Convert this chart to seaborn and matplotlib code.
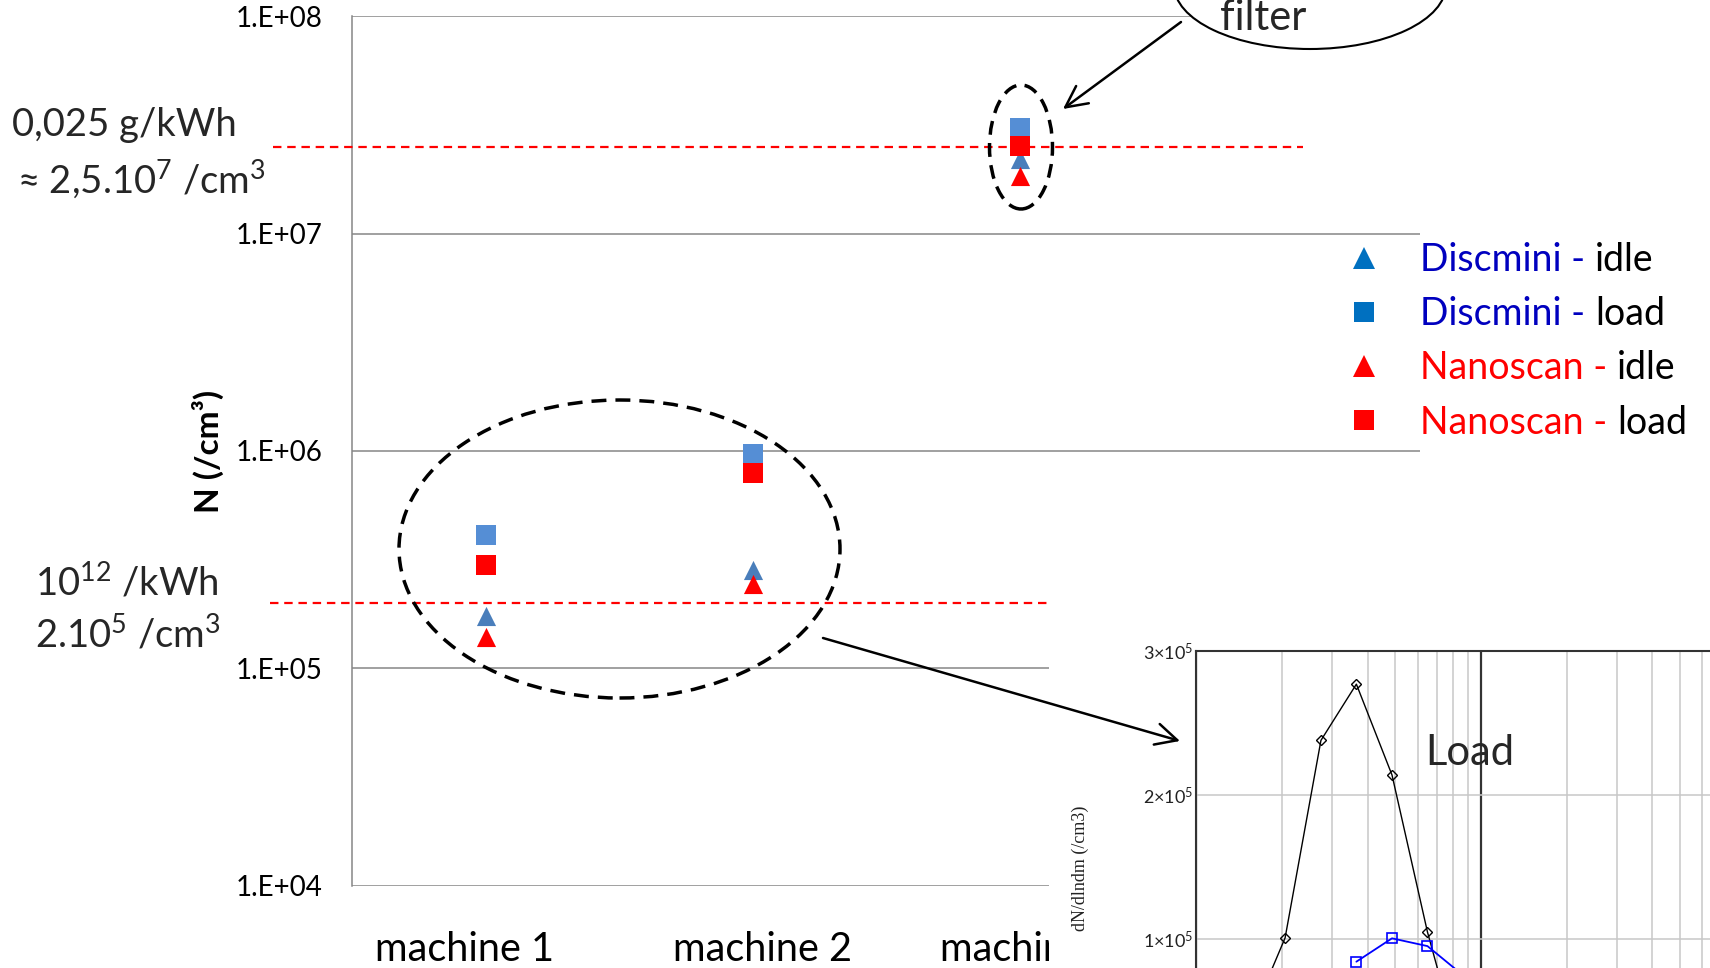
import matplotlib
matplotlib.use("Agg")
import matplotlib.pyplot as plt
import matplotlib.transforms as mtransforms
import numpy as np
import pandas as pd
import seaborn as sns
from matplotlib.lines import Line2D
from matplotlib.patches import Ellipse, FancyArrowPatch, Rectangle
from matplotlib.ticker import LogLocator, NullFormatter

# ---------------- data ----------------
machines = ["machine 1", "machine 2", "machine 3"]
discmini_idle = [1.74e5, 2.83e5, 2.21e7]
discmini_load = [4.10e5, 9.64e5, 3.07e7]
nanoscan_idle = [1.40e5, 2.44e5, 1.84e7]
nanoscan_load = [2.98e5, 7.88e5, 2.52e7]

y_ticks = [1e4, 1e5, 1e6, 1e7, 1e8]
y_tick_labels = ["1.E+04", "1.E+05", "1.E+06", "1.E+07", "1.E+08"]

limit_mass = 2.5e7     # 0,025 g/kWh
limit_number = 2e5     # 10^12 /kWh

# size distribution at load (inset)
dm_black = [15.4, 20.5, 27.4, 36.5, 48.7, 64.9, 86.6]
dn_black = [4.3e4, 1.01e5, 2.38e5, 2.77e5, 2.14e5, 1.05e5, 1.5e4]
dm_blue = [36.5, 48.7, 64.9, 86.6]
dn_blue = [8.45e4, 1.007e5, 9.53e4, 7.5e4]
inset_yticks = [1e5, 2e5, 3e5]
inset_yticklabels = [r"$1{\times}10^{5}$", r"$2{\times}10^{5}$", r"$3{\times}10^{5}$"]

# ---------------- style ----------------
sns.set_theme(style="white")
plt.rcParams["font.family"] = ["Lato", "DejaVu Sans"]
plt.rcParams["mathtext.fontset"] = "custom"
plt.rcParams["mathtext.rm"] = "Lato"
plt.rcParams["mathtext.it"] = "Lato:italic"
plt.rcParams["mathtext.bf"] = "Lato:bold"
plt.rcParams["mathtext.sf"] = "Lato"
plt.rcParams["mathtext.default"] = "regular"

W, H = 1710, 968
fig = plt.figure(figsize=(W / 100, H / 100), dpi=100)
fig.patch.set_facecolor("white")


def fx(px):
    return px / W


def fy(py):
    return 1 - py / H


GRID = "#868686"

# ---------------- main axes ----------------
ax = fig.add_axes([fx(352), fy(885.6), (1420 - 352) / W, (885.6 - 16.4) / H])
ax.set_zorder(0)

series = {
    "Discmini - idle": (discmini_idle, "^", "#4A7EBB"),
    "Discmini - load": (discmini_load, "s", "#558ED5"),
    "Nanoscan - idle": (nanoscan_idle, "^", "#FF0000"),
    "Nanoscan - load": (nanoscan_load, "s", "#FF0000"),
}
for name, (vals, mk, col) in series.items():
    d = pd.DataFrame({"machine": machines, "N": vals})
    sns.scatterplot(data=d, x="machine", y="N", marker=mk, color=col, s=190,
                    linewidth=0, ax=ax, zorder=4, legend=False)

ax.set_yscale("log")
ax.set_ylim(1e4, 1e8)
ax.set_xlim(-0.5, 3.5)
ax.set_yticks(y_ticks)
ax.set_yticklabels(y_tick_labels)
ax.yaxis.set_minor_locator(LogLocator(subs=[]))
ax.yaxis.set_minor_formatter(NullFormatter())
ax.set_xticks(range(len(machines)))
ax.set_xticklabels(machines)
ax.tick_params(axis="y", length=0, pad=21, labelsize=20, labelcolor="black")
ax.tick_params(axis="x", length=0, pad=33, labelsize=28.5, labelcolor="black")
# category labels sit slightly off their category centres
for lab, dx in zip(ax.get_xticklabels(), [-15, 7, 7]):
    lab.set_transform(lab.get_transform() +
                      mtransforms.ScaledTranslation(dx / 72, 0, fig.dpi_scale_trans))
ax.yaxis.grid(True, color=GRID, lw=1.1)
ax.xaxis.grid(False)
for side in ["top", "right", "bottom"]:
    ax.spines[side].set_visible(False)
ax.spines["left"].set_color(GRID)
ax.spines["left"].set_linewidth(1.1)
ax.set_xlabel("")
ax.set_ylabel("N (/cm³)", fontsize=24, fontweight="bold", color="black")
ax.yaxis.label.set_verticalalignment("center")
ax.yaxis.set_label_coords((208 - 352) / 1068, 0.5)

# emission limits
ytr = ax.get_yaxis_transform()
ax.plot([(273 - 352) / 1068, (1303 - 352) / 1068], [limit_mass] * 2, transform=ytr,
        clip_on=False, color="#FF0000", lw=1.6, ls=(0, (3.8, 2.6)), zorder=3)
ax.plot([(270 - 352) / 1068, (1100 - 352) / 1068], [limit_number] * 2, transform=ytr,
        clip_on=False, color="#FF0000", lw=1.6, ls=(0, (3.8, 2.6)), zorder=3)

# legend: coloured instrument name, black operating point
handles = [
    Line2D([], [], ls="", marker="^", ms=16, color="#0070C0", mew=0),
    Line2D([], [], ls="", marker="s", ms=14, color="#0070C0", mew=0),
    Line2D([], [], ls="", marker="^", ms=16, color="#FF0000", mew=0),
    Line2D([], [], ls="", marker="s", ms=14, color="#FF0000", mew=0),
]
leg = ax.legend(handles, ["Discmini -", "Discmini -", "Nanoscan -", "Nanoscan -"],
                loc="upper left", bbox_to_anchor=(fx(1345), fy(242)),
                bbox_transform=fig.transFigure, frameon=False, fontsize=27,
                handlelength=1.0, handletextpad=1.0, labelspacing=0.485,
                borderpad=0, borderaxespad=0)
for t, c in zip(leg.get_texts(), ["#0000BF", "#0000BF", "#FF0000", "#FF0000"]):
    t.set_color(c)

# ---------------- inset: size distribution ----------------
fig.add_artist(Rectangle((fx(1049), 0), 1 - fx(1049), fy(585), transform=fig.transFigure,
                         facecolor="white", edgecolor="none", zorder=1))

axin = fig.add_axes([fx(1196.4), fy(1083.5), 569 / W, 432.5 / H])
axin.set_zorder(2)
axin.set_facecolor("white")
sns.lineplot(x=dm_black, y=dn_black, ax=axin, color="black", lw=1.0, marker="D",
             markersize=5.5, markerfacecolor="none", markeredgecolor="black",
             markeredgewidth=1.0, sort=False, estimator=None)
sns.lineplot(x=dm_blue, y=dn_blue, ax=axin, color="#0000FF", lw=1.3, marker="s",
             markersize=7.5, markerfacecolor="none", markeredgecolor="#0000FF",
             markeredgewidth=1.2, sort=False, estimator=None)
axin.set_xscale("log")
axin.set_xlim(10, 1000)
axin.set_ylim(0, 3e5)
axin.xaxis.set_minor_locator(LogLocator(subs=np.arange(2, 10)))
axin.xaxis.grid(True, which="minor", color="#C8C8C8", lw=1.1)
axin.xaxis.grid(True, which="major", color="#333333", lw=1.6)
axin.set_yticks(inset_yticks)
axin.set_yticklabels(inset_yticklabels)
for lab in axin.get_yticklabels():
    lab.set_math_fontfamily("stix")
axin.yaxis.grid(True, color="#C8C8C8", lw=1.1)
axin.tick_params(axis="both", which="both", length=0, labelsize=13, pad=2,
                 labelcolor="#222222")
axin.tick_params(axis="x", which="both", labelbottom=False)
for s in axin.spines.values():
    s.set_color("#333333")
    s.set_linewidth(1.5)
axin.set_ylabel("dN/dlndm (/cm3)", fontsize=13, family=["Liberation Serif", "DejaVu Serif"],
                color="#222222")
axin.yaxis.label.set_verticalalignment("center")
axin.yaxis.set_label_coords((1080 - 1196.4) / 569, (1083.5 - 868) / 432.5)
axin.set_xlabel("")

fig.text(fx(1425), fy(765), "Load", fontsize=30, ha="left", va="baseline", zorder=3)

# ---------------- annotations ----------------
fig.text(fx(12), fy(136), "0,025 g/kWh", fontsize=27.5, ha="left", va="baseline")
fig.text(fx(17), fy(192), r"≈ 2,5.10$^{7}$ /cm$^{3}$", fontsize=27.5, ha="left", va="baseline")
fig.text(fx(35), fy(595), r"10$^{12}$ /kWh", fontsize=27.5, ha="left", va="baseline")
fig.text(fx(35), fy(647), r"2.10$^{5}$ /cm$^{3}$", fontsize=27.5, ha="left", va="baseline")

# callout bubble
fig.add_artist(Ellipse((fx(1310), fy(-15)), 272 / W, 128 / H, transform=fig.transFigure,
                       facecolor="white", edgecolor="black", lw=1.5, zorder=2.5))
fig.text(fx(1220), fy(30), "filter", fontsize=30, ha="left", va="baseline", zorder=3)

# dashed groupings
fig.add_artist(Ellipse((fx(619.5), fy(549)), 441 / W, 298 / H, transform=fig.transFigure,
                       fill=False, edgecolor="black", lw=2.5, ls=(0, (4.3, 2.6)), zorder=3))
fig.add_artist(Ellipse((fx(1021), fy(147)), 63 / W, 124 / H, transform=fig.transFigure,
                       fill=False, edgecolor="black", lw=2.5, ls=(0, (4.0, 2.4)), zorder=3))

arrow_kw = dict(arrowstyle="->,head_length=0.7,head_width=0.35", mutation_scale=22,
                color="black", lw=1.8, transform=fig.transFigure, zorder=3,
                shrinkA=0, shrinkB=0)
fig.add_artist(FancyArrowPatch((fx(1181), fy(22)), (fx(1063), fy(109)), **arrow_kw))
fig.add_artist(FancyArrowPatch((fx(823), fy(638)), (fx(1180), fy(741)), **arrow_kw))

# second part of the legend labels
fig.canvas.draw()
for t, word in zip(leg.get_texts(), ["idle", "load", "idle", "load"]):
    ax.annotate(word, xy=(1, 0), xycoords=t, xytext=(7, 0), textcoords="offset points",
                ha="left", va="bottom", fontsize=27, color="black", annotation_clip=False)

fig.savefig("out.png", dpi=100, facecolor="white")
